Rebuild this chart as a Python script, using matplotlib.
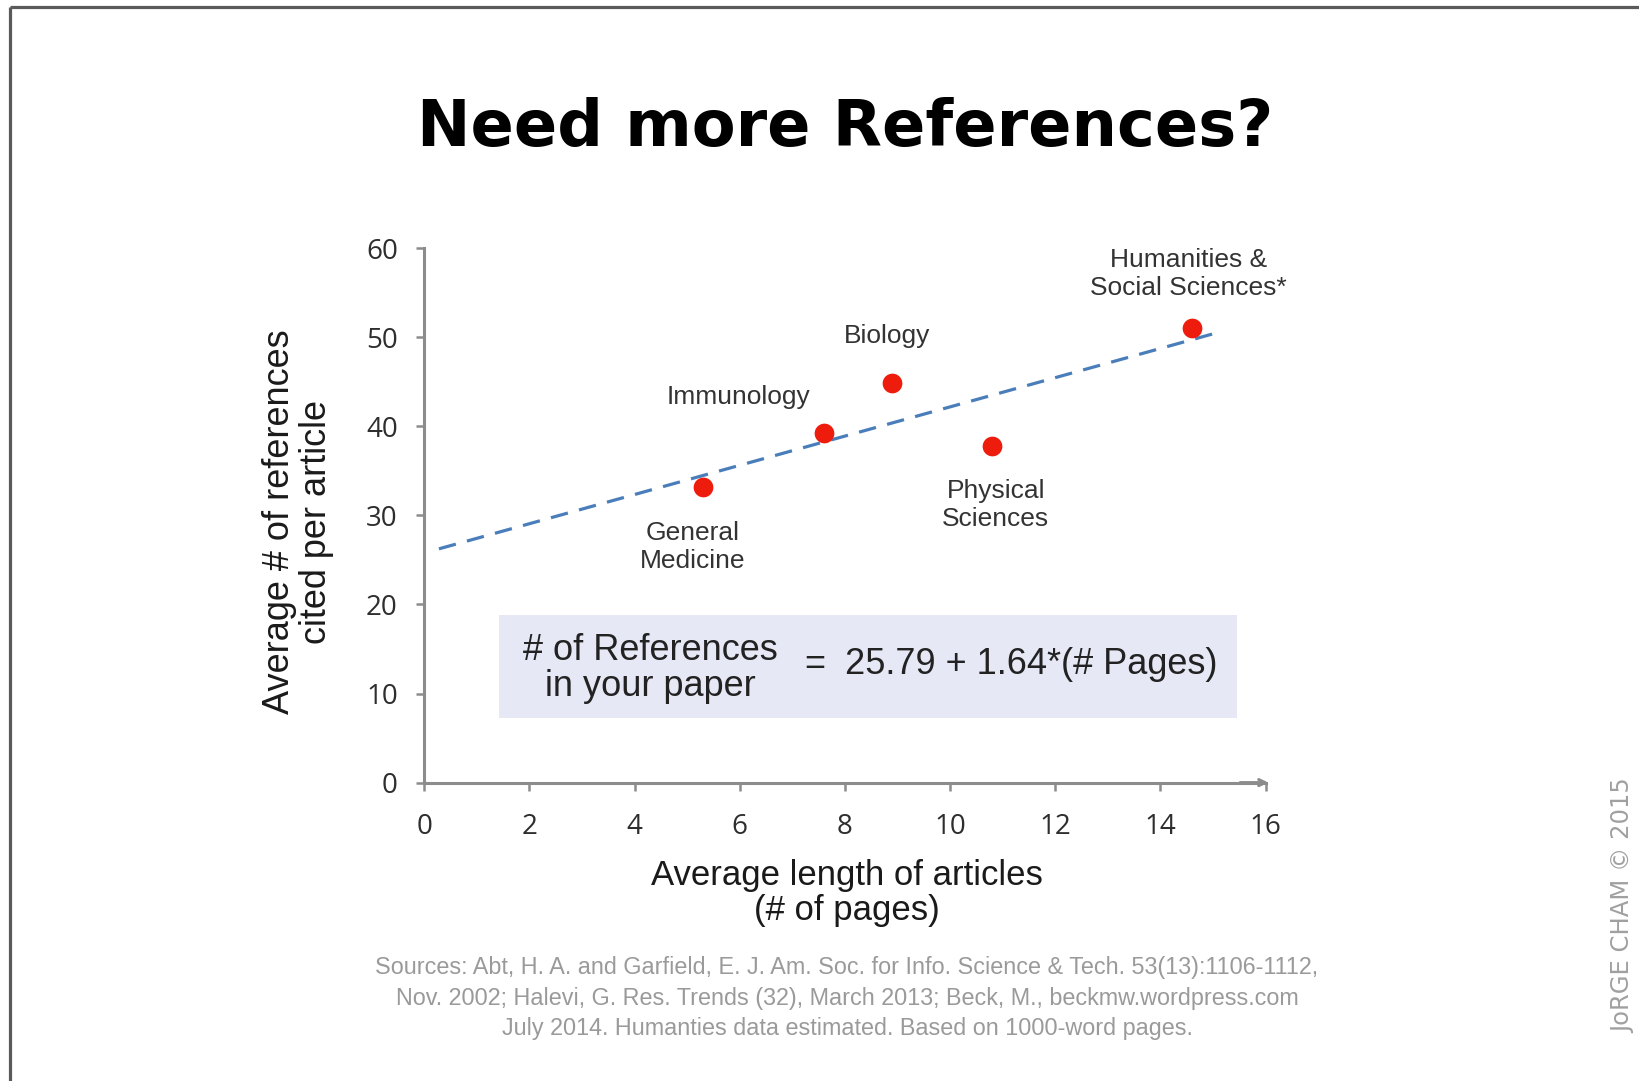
import matplotlib
matplotlib.use("Agg")
import matplotlib.pyplot as plt
from matplotlib.patches import Rectangle
from matplotlib.lines import Line2D
import numpy as np

# ---------------- data ----------------
fields = ["General\nMedicine", "Immunology", "Biology",
          "Physical\nSciences", "Humanities &\nSocial Sciences*"]
pages = [5.3, 7.6, 8.9, 10.8, 14.6]
refs = [33.2, 39.3, 44.9, 37.8, 51.0]
fit_intercept = 25.79
fit_slope = 1.64
fit_x_range = [0.28, 15.03]
x_ticks = [0, 2, 4, 6, 8, 10, 12, 14, 16]
y_ticks = [0, 10, 20, 30, 40, 50, 60]

title = "Need more References?"
x_label = "Average length of articles\n(# of pages)"
y_label = "Average # of references\ncited per article"
eq_left = "# of References\nin your paper"
eq_right = "25.79 + 1.64*(# Pages)"
sources = ("Sources: Abt, H. A. and Garfield, E. J. Am. Soc. for Info. Science & Tech. 53(13):1106-1112,\n"
           "Nov. 2002; Halevi, G. Res. Trends (32), March 2013; Beck, M., beckmw.wordpress.com\n"
           "July 2014. Humanties data estimated. Based on 1000-word pages.")
signature = "JoRGE CHAM \u00a9 2015"

# ---------------- layout ----------------
label_pos = [(5.11, 26.5), (5.97, 43.3), (8.81, 50.1), (10.87, 31.2), (14.54, 57.1)]
W, H = 1639, 1081
fig = plt.figure(figsize=(W / 100, H / 100), dpi=100)
fig.patch.set_facecolor("white")

ax = fig.add_axes([424.2 / W, 1 - 782.6 / H, 841.3 / W, 534.3 / H])
ax.set_xlim(0, 16)
ax.set_ylim(0, 60)
for s in ["top", "right"]:
    ax.spines[s].set_visible(False)
axis_col = "#8c8c8c"
for s in ["left", "bottom"]:
    ax.spines[s].set_color(axis_col)
    ax.spines[s].set_linewidth(2.2)
ax.set_xticks(x_ticks)
ax.set_yticks(y_ticks)
ax.tick_params(axis="both", direction="out", length=6, width=1.8, color=axis_col,
               labelsize=20, labelcolor="#2e2e2e")
ax.tick_params(axis="x", pad=16)
ax.tick_params(axis="y", pad=13)
for lab in ax.get_xticklabels() + ax.get_yticklabels():
    lab.set_fontfamily(["Open Sans", "DejaVu Sans"])

# arrow at end of x axis
ax.annotate("", xy=(1.0035, 0), xytext=(0.97, 0), xycoords="axes fraction",
            textcoords="axes fraction",
            arrowprops=dict(arrowstyle="->,head_length=0.45,head_width=0.22",
                            color=axis_col, lw=2.2, shrinkA=0, shrinkB=0),
            annotation_clip=False)

# equation box
ax.add_patch(Rectangle((1.43, 7.26), 15.45 - 1.43, 18.83 - 7.26,
                       facecolor="#e6e8f5", edgecolor="none", zorder=1))

# regression line
fx = np.array(fit_x_range)
ax.plot(fx, fit_intercept + fit_slope * fx, color="#4a7ebb", lw=2.3,
        linestyle=(0, (5.5, 3.6)), zorder=2, solid_capstyle="butt")

# points
ax.plot(pages, refs, "o", color="#ee1c0c", markersize=14.2, markeredgewidth=0,
        zorder=3, clip_on=False)

# point labels
for name, (lx, ly) in zip(fields, label_pos):
    ax.text(lx, ly, name, ha="center", va="center", fontsize=19,
            family=["Liberation Sans", "DejaVu Sans"], color="#333333",
            linespacing=1.2, multialignment="center")

# equation text
eq_font = dict(fontsize=26, family=["Liberation Sans", "DejaVu Sans"], color="#222222")
ax.text(4.31, 12.8, eq_left, ha="center", va="center", linespacing=1.05,
        multialignment="center", **eq_font)
ax.text(7.42, 13.3, "=", ha="center", va="center", **eq_font)
ax.text(11.54, 13.3, eq_right, ha="center", va="center", **eq_font)

# title and axis labels
fig.text(845.6 / W, 1 - 146.3 / H, title, ha="center", va="baseline",
         fontsize=46, fontweight="bold", family=["DejaVu Sans"], color="#000000")
fig.text(846.7 / W, 1 - 893 / H, x_label, ha="center", va="center", fontsize=25,
         family=["Liberation Sans", "DejaVu Sans"], color="#1a1a1a",
         linespacing=1.1, multialignment="center")
fig.text(298 / W, 1 - 522 / H, y_label, ha="center", va="center", rotation=90,
         fontsize=26, family=["Liberation Sans", "DejaVu Sans"], color="#1a1a1a",
         linespacing=1.05, multialignment="center")

# sources
fig.text(847 / W, 1 - 998 / H, sources, ha="center", va="center", fontsize=16.8,
         family=["Liberation Sans", "DejaVu Sans"], color="#9a9a9a",
         linespacing=1.42, multialignment="center")

# signature
fig.text(1623 / W, 1 - 906 / H, signature, ha="center", va="center", rotation=90,
         fontsize=17.5, family=["DejaVu Sans"], color="#a0a0a0")

# frame lines (top and left)
fig.add_artist(Line2D([9.5 / W, 1.0], [1 - 7 / H, 1 - 7 / H], transform=fig.transFigure,
                      color="#5a5a5a", lw=2.3, solid_capstyle="butt"))
fig.add_artist(Line2D([9.5 / W, 9.5 / W], [0.0, 1 - 7 / H], transform=fig.transFigure,
                      color="#5a5a5a", lw=2.3, solid_capstyle="butt"))

fig.savefig("out.png", dpi=100, facecolor="white")
